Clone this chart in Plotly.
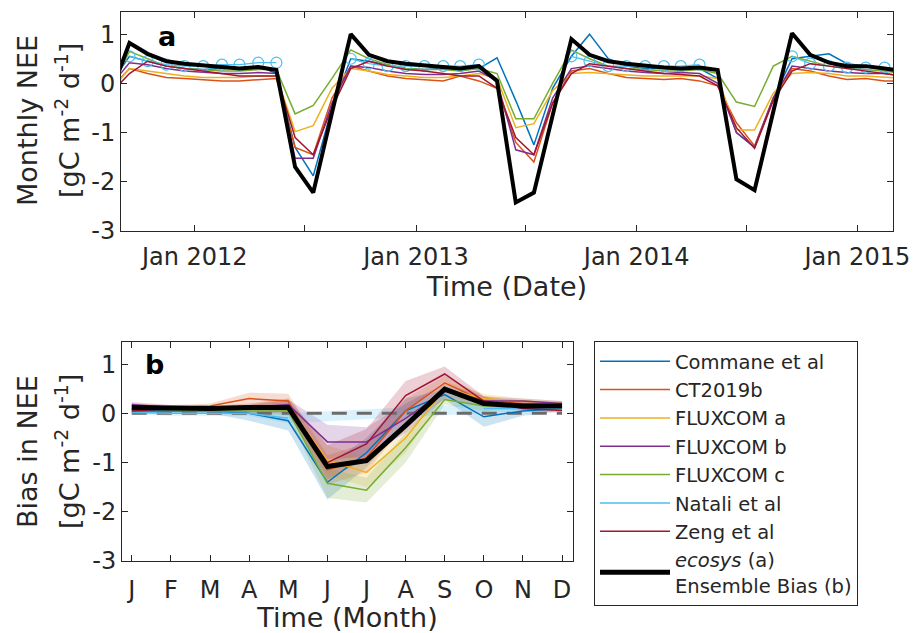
import pandas as pd
import plotly.graph_objects as go

# ---------------- data: panel a (monthly NEE, Aug 2011 .. Mar 2015) ----------------
month_start = "2011-08-01"
n_months = 44

ecosys = [-0.2, 0.82, 0.6, 0.45, 0.4,
          0.36, 0.33, 0.3, 0.33, 0.27, -1.7, -2.22, -0.6, 1.0, 0.58, 0.45, 0.4,
          0.36, 0.32, 0.3, 0.35, 0.05, -2.42, -2.22, -0.65, 0.9, 0.58, 0.45, 0.4,
          0.35, 0.32, 0.3, 0.32, 0.27, -1.95, -2.17, -0.55, 1.02, 0.58, 0.42, 0.35,
          0.35, 0.3, 0.25]
commane = [0.0, 0.55, 0.45, 0.35, 0.3,
           0.28, 0.3, 0.3, 0.35, 0.2, -1.3, -1.88, -0.5, 0.5, 0.45, 0.38, 0.3,
           0.28, 0.3, 0.3, 0.3, 0.52, -0.35, -1.25, -0.1, 0.55, 1.0, 0.5, 0.35,
           0.3, 0.3, 0.3, 0.3, 0.1, -1.0, -1.3, -0.3, 0.5, 0.55, 0.6, 0.4,
           0.35, 0.3, 0.3]
ct2019b = [-0.1, 0.3, 0.2, 0.12, 0.1,
           0.08, 0.05, 0.05, 0.08, 0.1, -1.3, -1.45, -0.3, 0.35, 0.25, 0.15, 0.1,
           0.08, 0.05, 0.15, 0.05, -0.1, -1.2, -1.6, -0.4, 0.25, 0.3, 0.2, 0.12,
           0.1, 0.08, 0.1, 0.05, -0.05, -0.8, -1.27, -0.3, 0.3, 0.25, 0.15, 0.08,
           0.1, 0.05, 0.05]
fluxcom_a = [-0.15, 0.3, 0.25, 0.2, 0.15,
             0.12, 0.12, 0.12, 0.15, 0.15, -0.98, -0.86, -0.1, 0.3, 0.25, 0.18, 0.15,
             0.12, 0.12, 0.15, 0.2, 0.1, -0.9, -0.82, -0.15, 0.2, 0.22, 0.2, 0.18,
             0.15, 0.15, 0.15, 0.15, 0.1, -0.95, -0.95, -0.2, 0.2, 0.22, 0.2, 0.15,
             0.15, 0.12, 0.1]
fluxcom_b = [-0.05, 0.42, 0.38, 0.3, 0.25,
             0.22, 0.2, 0.2, 0.22, 0.2, -1.52, -1.52, -0.4, 0.35, 0.32, 0.25, 0.2,
             0.18, 0.18, 0.2, 0.25, 0.05, -1.35, -1.45, -0.3, 0.3, 0.35, 0.3, 0.25,
             0.22, 0.2, 0.22, 0.2, 0.0, -1.0, -1.3, -0.3, 0.35, 0.3, 0.25, 0.22,
             0.2, 0.2, 0.15]
fluxcom_c = [-0.1, 0.65, 0.5, 0.35, 0.3,
             0.28, 0.25, 0.25, 0.28, 0.28, -0.62, -0.45, 0.1, 0.68, 0.5, 0.38, 0.3,
             0.28, 0.28, 0.25, 0.3, 0.2, -0.72, -0.72, 0.0, 0.68, 0.5, 0.35, 0.3,
             0.28, 0.25, 0.25, 0.28, 0.2, -0.38, -0.47, 0.35, 0.55, 0.45, 0.35, 0.3,
             0.28, 0.25, 0.2]
natali = [None, 0.55, 0.45, 0.38, 0.35,
          0.35, 0.38, 0.38, 0.42, 0.42, None, None, None, 0.5, 0.4, 0.35, 0.35,
          0.35, 0.35, 0.35, 0.38, None, None, None, None, 0.55, 0.45, 0.35, 0.35,
          0.35, 0.35, 0.35, 0.38, None, None, None, None, 0.55, 0.4, 0.35, 0.32,
          0.32, 0.32, 0.3]
zeng = [-0.2, 0.2, 0.45, 0.35, 0.3,
        0.25, 0.2, 0.15, 0.15, 0.15, -1.1, -1.45, -0.5, 0.3, 0.45, 0.35, 0.28,
        0.25, 0.2, 0.15, 0.15, -0.1, -1.1, -1.45, -0.4, 0.2, 0.4, 0.35, 0.3,
        0.25, 0.2, 0.18, 0.15, -0.05, -0.9, -1.32, -0.35, 0.25, 0.4, 0.35, 0.3,
        0.25, 0.2, 0.15]

top_tick_dates = ["2011-07-01", "2012-01-01", "2012-07-01", "2013-01-01", "2013-07-01",
                  "2014-01-01", "2014-07-01", "2015-01-01", "2015-07-01"]
top_tick_labels = ["", "Jan 2012", "", "Jan 2013", "", "Jan 2014", "", "Jan 2015", ""]
y_tick_vals = [-3, -2, -1, 0, 1]
y_tick_labels = ["-3", "-2", "-1", "0", "1"]

# ---------------- data: panel b (bias by month) ----------------
month_letters = ["J", "F", "M", "A", "M", "J", "J", "A", "S", "O", "N", "D"]
month_num = [1, 2, 3, 4, 5, 6, 7, 8, 9, 10, 11, 12]

bias_commane = [0.05, 0.05, 0.05, 0.0, -0.15, -1.4, -0.8, 0.05, 0.38, -0.07, 0.05, 0.1]
bias_ct2019b = [0.15, 0.12, 0.15, 0.3, 0.25, -1.15, -0.9, 0.05, 0.62, 0.25, 0.2, 0.2]
bias_fluxcom_a = [0.1, 0.1, 0.1, 0.12, 0.15, -0.95, -1.2, -0.5, 0.5, 0.3, 0.25, 0.2]
bias_fluxcom_b = [0.18, 0.12, 0.1, 0.12, 0.18, -0.58, -0.58, -0.1, 0.45, 0.25, 0.25, 0.2]
bias_fluxcom_c = [0.1, 0.08, 0.05, 0.05, 0.05, -1.42, -1.56, -0.7, 0.28, 0.15, 0.15, 0.15]
bias_natali = [0.02, 0.0, 0.0, 0.0, -0.1, None, None, None, None, 0.1, 0.1, 0.1]
bias_zeng = [0.05, 0.1, 0.1, 0.1, 0.15, -1.0, -0.62, 0.36, 0.8, 0.25, 0.1, 0.06]
bias_ensemble = [0.12, 0.1, 0.1, 0.12, 0.12, -1.08, -0.96, -0.25, 0.49, 0.2, 0.15, 0.15]

spread_commane = [0.05, 0.05, 0.05, 0.15, 0.2, 0.35, 0.3, 0.25, 0.1, 0.2, 0.1, 0.05]
spread_ct2019b = [0.05, 0.05, 0.05, 0.12, 0.15, 0.3, 0.3, 0.25, 0.15, 0.1, 0.05, 0.05]
spread_fluxcom_a = [0.05, 0.05, 0.05, 0.05, 0.1, 0.3, 0.3, 0.3, 0.15, 0.1, 0.05, 0.05]
spread_fluxcom_b = [0.05, 0.05, 0.05, 0.05, 0.1, 0.35, 0.3, 0.3, 0.15, 0.1, 0.05, 0.05]
spread_fluxcom_c = [0.05, 0.05, 0.05, 0.05, 0.1, 0.3, 0.25, 0.3, 0.1, 0.1, 0.05, 0.05]
spread_natali = [0.05, 0.05, 0.05, 0.05, 0.1, None, None, None, None, 0.1, 0.05, 0.05]
spread_zeng = [0.05, 0.05, 0.05, 0.1, 0.15, 0.35, 0.3, 0.3, 0.15, 0.1, 0.05, 0.05]

names = ["Commane et al", "CT2019b", "FLUXCOM a", "FLUXCOM b", "FLUXCOM c",
         "Natali et al", "Zeng et al"]
colors = ["#0072BD", "#D95319", "#EDB120", "#7E2F8E", "#77AC30", "#4DBEEE", "#A2142F"]
series_a = [commane, ct2019b, fluxcom_a, fluxcom_b, fluxcom_c, natali, zeng]
series_b = [bias_commane, bias_ct2019b, bias_fluxcom_a, bias_fluxcom_b, bias_fluxcom_c,
            bias_natali, bias_zeng]
spreads_b = [spread_commane, spread_ct2019b, spread_fluxcom_a, spread_fluxcom_b,
             spread_fluxcom_c, spread_natali, spread_zeng]

# ---------------- figure ----------------
W, H = 915, 633
FONT = "DejaVu Sans"
AX = "#262626"
dates = pd.date_range(month_start, periods=n_months, freq="MS") + pd.Timedelta(days=14)


def rgba(hexc, a):
    h = hexc.lstrip("#")
    return "rgba(%d,%d,%d,%.2f)" % (int(h[0:2], 16), int(h[2:4], 16), int(h[4:6], 16), a)


fig = go.Figure()

# panel a
for name, col, ys in zip(names, colors, series_a):
    if name == "Natali et al":
        fig.add_trace(go.Scatter(x=dates, y=ys, mode="lines+markers", name=name,
                                 line=dict(color=col, width=1.3),
                                 marker=dict(symbol="circle-open", size=11, color=col,
                                             line=dict(width=1.2)),
                                 showlegend=False, xaxis="x", yaxis="y", connectgaps=False))
    else:
        fig.add_trace(go.Scatter(x=dates, y=ys, mode="lines", name=name,
                                 line=dict(color=col, width=1.5),
                                 showlegend=False, xaxis="x", yaxis="y"))
fig.add_trace(go.Scatter(x=dates, y=ecosys, mode="lines", name="ecosys",
                         line=dict(color="black", width=4), showlegend=False,
                         xaxis="x", yaxis="y"))

# panel b: bands
for col, ys, sp in zip(colors, series_b, spreads_b):
    xs_b, lo, hi = [], [], []
    for m, v, s in zip(month_num, ys, sp):
        if v is not None and s is not None:
            xs_b.append(m)
            lo.append(v - s)
            hi.append(v + s)
    fig.add_trace(go.Scatter(x=xs_b + xs_b[::-1], y=hi + lo[::-1], fill="toself",
                             fillcolor=rgba(col, 0.2), line=dict(width=0),
                             mode="lines", hoverinfo="skip", showlegend=False,
                             xaxis="x2", yaxis="y2"))

# zero line
fig.add_trace(go.Scatter(x=[month_num[0], month_num[-1]], y=[0, 0], mode="lines",
                         line=dict(color="#6b6b6b", width=3, dash="15px,10px"),
                         showlegend=False, xaxis="x2", yaxis="y2"))

for name, col, ys in zip(names, colors, series_b):
    fig.add_trace(go.Scatter(x=month_num, y=ys, mode="lines", name=name,
                             line=dict(color=col, width=1.5),
                             xaxis="x2", yaxis="y2"))
fig.add_trace(go.Scatter(x=month_num, y=bias_ensemble, mode="lines",
                         name="<i>ecosys</i> (a)<br>Ensemble Bias (b)",
                         line=dict(color="black", width=5), xaxis="x2", yaxis="y2"))

axis_common = dict(showline=True, linecolor=AX, linewidth=1, mirror="ticks",
                   ticks="inside", ticklen=6, tickwidth=1, tickcolor=AX,
                   showgrid=False, zeroline=False, automargin=False,
                   tickfont=dict(family=FONT, size=24, color=AX))

unit_text = "[gC m<sup>-2</sup> d<sup>-1</sup>]"

fig.update_layout(
    width=W, height=H, margin=dict(l=0, r=0, t=0, b=0),
    paper_bgcolor="white", plot_bgcolor="white",
    font=dict(family=FONT, color=AX),
    xaxis=dict(domain=[121 / W, 893 / W], anchor="y", type="date",
               range=["2011-09-01", "2015-03-01"],
               tickvals=top_tick_dates, ticktext=top_tick_labels, ticklabelstandoff=4,
               title=dict(text="Time (Date)", font=dict(size=27), standoff=4),
               **axis_common),
    yaxis=dict(domain=[1 - 231 / H, 1 - 12 / H], anchor="x", range=[-3, 1.45],
               tickvals=y_tick_vals, ticktext=y_tick_labels,
               **axis_common),
    xaxis2=dict(domain=[122 / W, 573 / W], anchor="y2", range=[0.75, 12.28],
                tickvals=month_num, ticktext=month_letters, ticklabelstandoff=7,
                title=dict(text="Time (Month)", font=dict(size=27), standoff=1),
                **axis_common),
    yaxis2=dict(domain=[1 - 561 / H, 1 - 342 / H], anchor="x2", range=[-3, 1.45],
                tickvals=y_tick_vals, ticktext=y_tick_labels,
                **axis_common),
    legend=dict(x=594 / W, y=1 - 341 / H, xanchor="left", yanchor="top",
                bordercolor=AX, borderwidth=1, bgcolor="white",
                font=dict(family=FONT, size=19.5, color=AX), itemwidth=70,
                entrywidth=220, entrywidthmode="pixels",
                tracegroupgap=0),
    annotations=[
        dict(text="<b>a</b>", x=167 / W, y=1 - 36 / H, xref="paper", yref="paper",
             xanchor="center", yanchor="middle",
             showarrow=False, font=dict(size=27, color="black")),
        dict(text="<b>b</b>", x=154 / W, y=1 - 364 / H, xref="paper", yref="paper",
             xanchor="center", yanchor="middle",
             showarrow=False, font=dict(size=27, color="black")),
        # y-axis titles (two lines each, MATLAB-like spacing)
        dict(text="Monthly NEE", x=27 / W, y=1 - 121 / H, xref="paper", yref="paper",
             xanchor="center", yanchor="middle", textangle=-90, showarrow=False,
             font=dict(size=27, color=AX)),
        dict(text=unit_text, x=67 / W, y=1 - 121 / H, xref="paper", yref="paper",
             xanchor="center", yanchor="middle", textangle=-90, showarrow=False,
             font=dict(size=27, color=AX)),
        dict(text="Bias in NEE", x=27 / W, y=1 - 452 / H, xref="paper", yref="paper",
             xanchor="center", yanchor="middle", textangle=-90, showarrow=False,
             font=dict(size=27, color=AX)),
        dict(text=unit_text, x=67 / W, y=1 - 452 / H, xref="paper", yref="paper",
             xanchor="center", yanchor="middle", textangle=-90, showarrow=False,
             font=dict(size=27, color=AX)),
    ],
)

fig.write_html("out.html")
